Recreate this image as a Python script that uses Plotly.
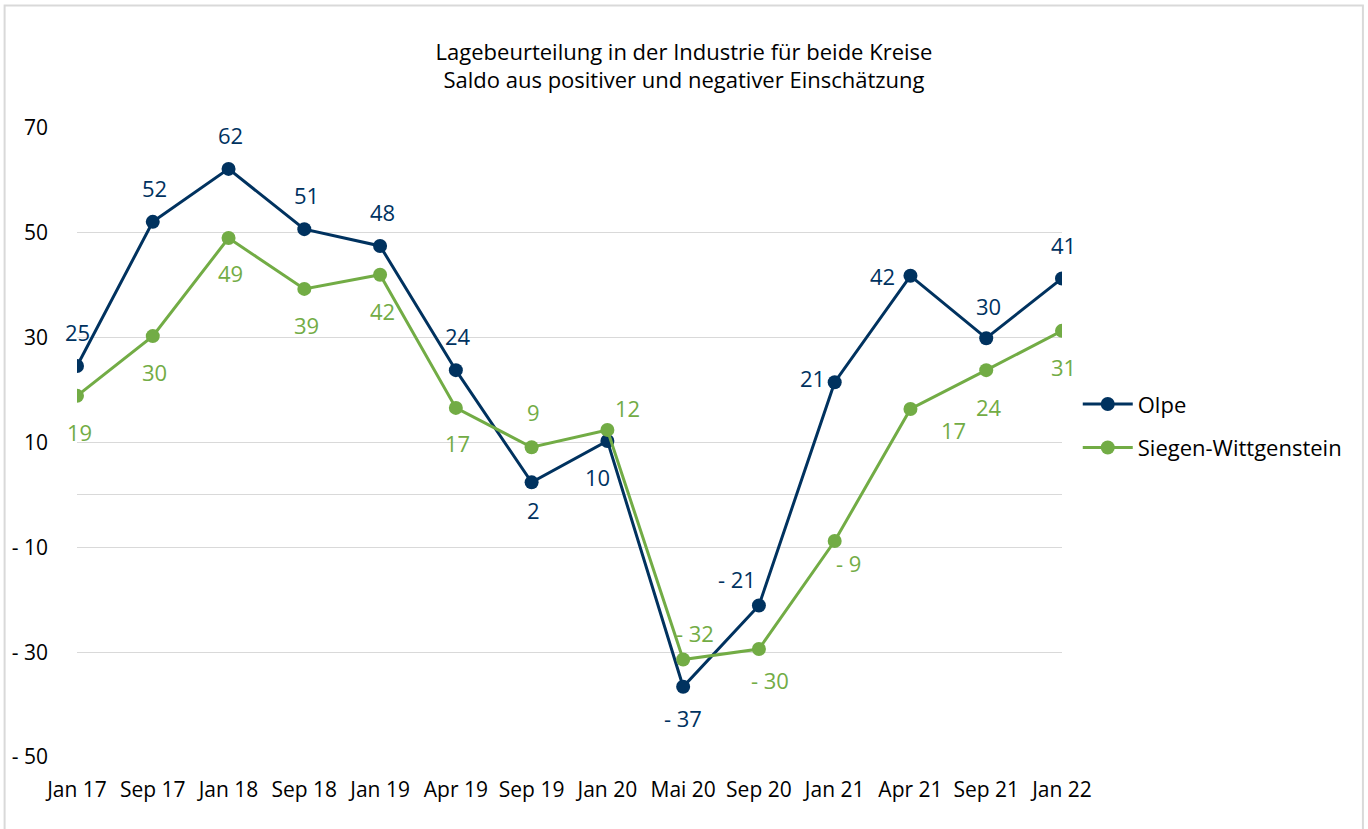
import plotly.graph_objects as go

# Data
categories = ["Jan 17", "Sep 17", "Jan 18", "Sep 18", "Jan 19", "Apr 19", "Sep 19",
              "Jan 20", "Mai 20", "Sep 20", "Jan 21", "Apr 21", "Sep 21", "Jan 22"]
olpe = [24.6, 52.1, 62.2, 50.7, 47.5, 23.8, 2.4, 10.3, -36.6, -21.1, 21.5, 41.8, 29.9, 41.3]
siegen = [18.9, 30.3, 49.0, 39.3, 42.0, 16.6, 9.1, 12.4, -31.4, -29.4, -8.8, 16.4, 23.8, 31.3]
olpe_text = ["25", "52", "62", "51", "48", "24", "2", "10", "- 37", "- 21", "21", "42", "30", "41"]
siegen_text = ["19", "30", "49", "39", "42", "17", "9", "12", "- 32", "- 30", "- 9", "17", "24", "31"]
y_ticks = [70, 50, 30, 10, -10, -30, -50]
y_ticktext = ["70", "50", "30", "10", "- 10", "- 30", "- 50"]

# label offsets in px (dx, dy), dy positive = up
olpe_off = [(0, 34), (2, 34), (2, 34), (2, 34), (2, 34), (2, 34), (2, -28), (-10, -36),
            (0, -31), (-22, 27), (-22, 4), (-28, 0), (2, 32), (1, 33)]
siegen_off = [(2, -36), (2, -36), (2, -35), (2, -36), (2, -36), (2, -35), (2, 35), (20, 22),
              (12, 27), (11, -31), (14, -22), (43, -21), (3, -37), (1, -36)]

navy = "#00325f"
green = "#72ac45"
font = "Open Sans"

fig = go.Figure()
fig.add_scatter(x=categories, y=olpe, name="Olpe", mode="lines+markers", legendgroup="a",
                line=dict(color=navy, width=3), marker=dict(size=14, color=navy))
fig.add_scatter(x=categories, y=siegen, name="Siegen-Wittgenstein", mode="lines+markers",
                legendgroup="b",
                line=dict(color=green, width=3), marker=dict(size=14, color=green))

for vals, texts, offs, col in [(olpe, olpe_text, olpe_off, navy),
                               (siegen, siegen_text, siegen_off, green)]:
    for c, v, t, (dx, dy) in zip(categories, vals, texts, offs):
        fig.add_annotation(x=c, y=v, text=t, showarrow=False, xshift=dx, yshift=dy,
                           font=dict(color=col, size=22, family=font))

# light frame around the whole chart
fig.add_shape(type="rect", xref="paper", yref="paper", x0=-0.0735, x1=1.3055, y0=-0.2, y1=1.1948,
              line=dict(color="#d9d9d9", width=2), layer="below")

fig.update_layout(
    width=1368,
    height=829,
    margin=dict(l=75, r=306, t=128, b=72),
    plot_bgcolor="white",
    paper_bgcolor="white",
    font=dict(family=font, size=21, color="black"),
    title=dict(text="Lagebeurteilung in der Industrie für beide Kreise<br>Saldo aus positiver und negativer Einschätzung",
               x=0.5, xanchor="center", y=0.928, yanchor="middle", font=dict(size=22)),
    legend=dict(x=1.016, xanchor="left", y=0.526, yanchor="middle", font=dict(size=22),
                itemwidth=50, bgcolor="rgba(0,0,0,0)", tracegroupgap=12,
                traceorder="grouped"),
    showlegend=True,
)
fig.update_xaxes(range=[0, 13], showgrid=False, zeroline=False, showline=False,
                 ticks="", ticklabelstandoff=18)
fig.update_yaxes(range=[-50, 70], tickvals=y_ticks, ticktext=y_ticktext,
                 showgrid=True, gridcolor="#d9d9d9", gridwidth=1,
                 zeroline=True, zerolinecolor="#d9d9d9", zerolinewidth=1,
                 showline=False, ticks="", ticklabelstandoff=28)

fig.write_html("out.html", config={"displayModeBar": False},
               post_script="document.body.style.margin = '0px';")
